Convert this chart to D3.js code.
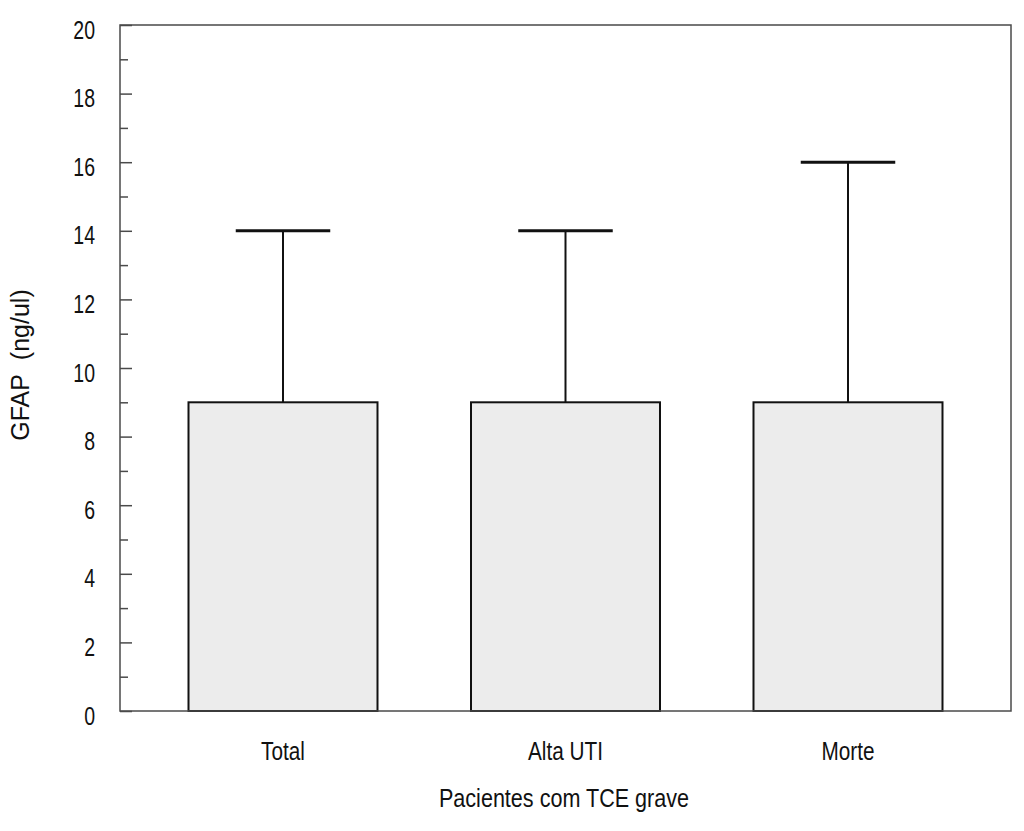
<!DOCTYPE html>
<html>
<head>
<meta charset="utf-8">
<script src="https://cdn.jsdelivr.net/npm/d3@7"></script>
<style>
  html, body { margin: 0; padding: 0; background: #fff; }
  svg { display: block; }
</style>
</head>
<body>
<svg id="chart" width="1024" height="831"></svg>
<script>
const categories = ["Total", "Alta UTI", "Morte"];
const means = [9, 9, 9];
const upperErrors = [14, 14, 16];
const yTicks = [0, 2, 4, 6, 8, 10, 12, 14, 16, 18, 20];
const yMinorTicks = [1, 3, 5, 7, 9, 11, 13, 15, 17, 19];
const yLabel = "GFAP\u00A0\u00A0(ng/ul)";
const xLabel = "Pacientes com TCE grave";

(function () {
const svg = d3.select("#chart");
const pLeft = 120, pRight = 1011, pTop = 25, pBottom = 711;
const font = "'Liberation Sans', Arial, sans-serif";
const sxNum = 0.78, sxTxt = 0.83;

const x = d3.scaleBand().domain(categories).range([pLeft, pRight])
  .paddingInner(0.331).paddingOuter(0.2425);
const y = d3.scaleLinear().domain([0, 20]).range([pBottom, pTop]);

const data = categories.map((c, i) => ({ c, m: means[i], u: upperErrors[i] }));
const g = svg.append("g");
g.selectAll("rect.bar").data(data).join("rect")
  .attr("class", "bar")
  .attr("x", d => x(d.c))
  .attr("y", d => y(d.m))
  .attr("width", x.bandwidth())
  .attr("height", d => y(0) - y(d.m))
  .attr("fill", "#ececec")
  .attr("stroke", "#111")
  .attr("stroke-width", 2);

g.selectAll("line.err").data(data).join("line")
  .attr("class", "err")
  .attr("x1", d => x(d.c) + x.bandwidth() / 2)
  .attr("x2", d => x(d.c) + x.bandwidth() / 2)
  .attr("y1", d => y(d.m))
  .attr("y2", d => y(d.u))
  .attr("stroke", "#111").attr("stroke-width", 2);
g.selectAll("line.cap").data(data).join("line")
  .attr("class", "cap")
  .attr("x1", d => x(d.c) + x.bandwidth() / 4)
  .attr("x2", d => x(d.c) + 3 * x.bandwidth() / 4)
  .attr("y1", d => y(d.u))
  .attr("y2", d => y(d.u))
  .attr("stroke", "#111").attr("stroke-width", 3);

svg.append("rect")
  .attr("x", pLeft).attr("y", pTop)
  .attr("width", pRight - pLeft).attr("height", pBottom - pTop)
  .attr("fill", "none").attr("stroke", "#4a4a4a").attr("stroke-width", 1.5);

const yAxis = d3.axisLeft(y).tickValues(yTicks).tickSize(-12).tickPadding(25)
  .tickFormat(d3.format("d"));
const ya = svg.append("g").attr("transform", `translate(${pLeft},0)`).call(yAxis);
ya.select(".domain").remove();
ya.selectAll(".tick line").attr("stroke", "#4a4a4a").attr("stroke-width", 1.5);
ya.selectAll(".tick text")
  .attr("font-family", font).attr("font-size", 25).attr("fill", "#111")
  .attr("dy", "0.52em")
  .attr("x", -25 / sxNum)
  .attr("transform", `scale(${sxNum},1)`);

const yMinor = d3.axisLeft(y).tickValues(yMinorTicks).tickSize(-8).tickFormat("");
const ym = svg.append("g").attr("transform", `translate(${pLeft},0)`).call(yMinor);
ym.select(".domain").remove();
ym.selectAll(".tick line").attr("stroke", "#4a4a4a").attr("stroke-width", 1.5);

const xAxis = d3.axisBottom(x).tickSize(0).tickPadding(31);
const xa = svg.append("g").attr("transform", `translate(0,${pBottom})`).call(xAxis);
xa.select(".domain").remove();
xa.selectAll(".tick text")
  .attr("font-family", font).attr("font-size", 25).attr("fill", "#111")
  .attr("transform", `scale(${sxTxt},1)`);

svg.append("text")
  .attr("x", ((pLeft + pRight) / 2 - 1.5) / sxTxt).attr("y", 807)
  .attr("transform", `scale(${sxTxt},1)`)
  .attr("text-anchor", "middle")
  .attr("font-family", font).attr("font-size", 26).attr("fill", "#111")
  .text(xLabel);

svg.append("text")
  .attr("transform", `translate(29,${365}) rotate(-90)`)
  .attr("text-anchor", "middle")
  .attr("font-family", font).attr("font-size", 25).attr("fill", "#111")
  .text(yLabel);
})();
</script>
</body>
</html>
